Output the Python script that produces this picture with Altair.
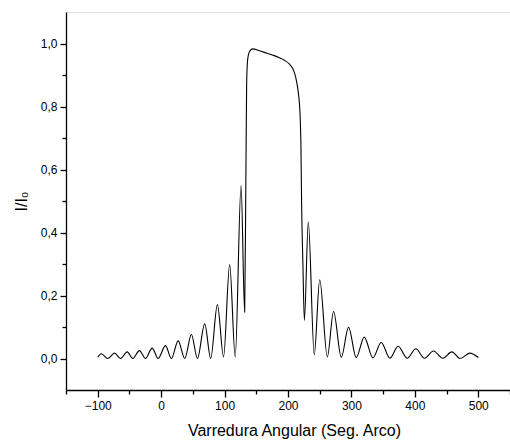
import altair as alt
import pandas as pd

# Rocking curve: angular scan (arc seconds) vs. normalised intensity I/I0
scan_arcsec = [
    -100, -94.5, -84, -73.5, -64, -53.5, -44.7, -34.2, -24.7, -14.2, -4.7,
    6.8, 16.2, 26.8, 37.2, 47.7, 57.2, 68.7, 78.1, 88.7, 98.4, 108, 116.8,
    126, 131.7, 133.5, 134.8, 136.2, 139, 144, 155, 165.4, 176, 186.3, 195,
    202, 207, 210.5, 213.5, 216.5, 218.9, 220.5, 221.4, 223.5, 225.8, 232,
    241.4, 250, 262, 271.8, 284, 295.5, 307.5, 320.2, 333.8, 347, 360.6,
    373.7, 387.9, 401.6, 415.1, 429.3, 444.1, 458.3, 471.3, 486.6, 500,
]
intensity = [
    0.004, 0.015, 0.0, 0.017, 0.0, 0.021, 0.0, 0.025, 0.0, 0.033, 0.0,
    0.041, 0.0, 0.056, 0.0, 0.076, 0.0, 0.110, 0.0, 0.171, 0.005, 0.298, 0.005,
    0.549, 0.147, 0.55, 0.87, 0.945, 0.973, 0.983, 0.977, 0.970, 0.963, 0.955, 0.946,
    0.935, 0.922, 0.905, 0.88, 0.84, 0.78, 0.66, 0.50, 0.30, 0.121, 0.433,
    0.012, 0.25, 0.005, 0.149, 0.004, 0.099, 0.003, 0.068, 0.002, 0.051, 0.001,
    0.039, 0.001, 0.031, 0.001, 0.024, 0.001, 0.021, 0.0, 0.017, 0.003,
]

x_ticks = [-150, -100, -50, 0, 50, 100, 150, 200, 250, 300, 350, 400, 450, 500, 550]
y_ticks = [0.0, 0.1, 0.2, 0.3, 0.4, 0.5, 0.6, 0.7, 0.8, 0.9, 1.0]

df = pd.DataFrame({"scan": scan_arcsec, "ratio": intensity})

FONT = "Liberation Sans"

x_axis = alt.Axis(
    values=x_ticks,
    labelExpr="datum.value % 100 === 0 ? datum.label : ''",
    format="d",
    tickSize={"condition": {"test": "datum.value % 100 === 0", "value": 7}, "value": 4},
    tickColor="black",
    tickWidth=1.3,
    domainColor="black",
    domainWidth=1.3,
    labelFont=FONT,
    labelFontSize=12,
    labelColor="black",
    labelPadding=3,
    title="Varredura Angular (Seg. Arco)",
    titleFont=FONT,
    titleFontSize=16,
    titleFontWeight="normal",
    titleColor="black",
    titlePadding=11,
    titleX=228,
    grid=False,
)

y_axis = alt.Axis(
    values=y_ticks,
    labelExpr="(round(datum.value * 10) % 2 === 0) ? replace(format(datum.value, '.1f'), '.', ',') : ''",
    tickSize={"condition": {"test": "round(datum.value * 10) % 2 === 0", "value": 6}, "value": 4},
    tickColor="black",
    tickWidth=1.3,
    domainColor="black",
    domainWidth=1.3,
    labelFont=FONT,
    labelFontSize=12,
    labelColor="black",
    labelPadding=3,
    title="I/I₀",
    titleFont=FONT,
    titleFontSize=16,
    titleFontWeight="normal",
    titleColor="black",
    titlePadding=11,
    grid=False,
)

chart = (
    alt.Chart(df)
    .mark_line(color="black", strokeWidth=1.1, interpolate="monotone", clip=True)
    .encode(
        x=alt.X("scan:Q", scale=alt.Scale(domain=[-150, 550], nice=False, zero=False), axis=x_axis),
        y=alt.Y("ratio:Q", scale=alt.Scale(domain=[-0.1, 1.1], nice=False, zero=False), axis=y_axis),
    )
    .properties(
        width=444,
        height=378,
        autosize=alt.AutoSizeParams(type="none"),
        padding={"left": 66, "top": 12, "right": 0, "bottom": 55},
    )
    .configure_view(stroke=None)
    .configure(background="white")
)

chart.save("out.html", embed_options={"renderer": "svg", "actions": False})
